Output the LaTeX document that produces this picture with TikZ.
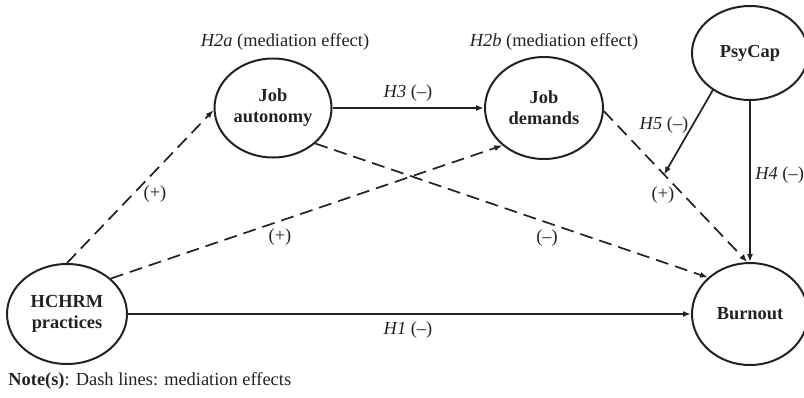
\documentclass[tikz,border=0pt]{standalone}
\usepackage{fontspec}
\setmainfont{Liberation Serif}
\usetikzlibrary{arrows.meta,shapes.geometric}
\definecolor{ink}{HTML}{222222}
\begin{document}
\begin{tikzpicture}[x=0.5pt,y=-0.5pt,
  font=\fontsize{9.2}{10.5}\selectfont, text=ink,
  var/.style={draw=ink, ellipse, line width=1pt, inner sep=0pt, align=center,
    font=\fontsize{9.2}{10.5}\selectfont\bfseries},
  conn/.style={draw=ink, line width=0.85pt, -{Latex[length=4pt,width=3pt]}},
  med/.style={conn, dash pattern=on 6.5pt off 3.5pt},
  lbl/.style={inner sep=0pt}
]
\useasboundingbox (0,0) rectangle (804,397);

% variables
\node[var, minimum width=60pt, minimum height=50pt] (hc) at (67,314) {HCHRM\\practices};
\node[var, minimum width=58.5pt, minimum height=49.5pt] (ja) at (273,108) {Job\\autonomy};
\node[var, minimum width=59pt, minimum height=51pt] (jd) at (544,108) {Job\\demands};
\node[var, minimum width=58pt, minimum height=47pt] (ps) at (750,53) {PsyCap};
\node[var, minimum width=58pt, minimum height=51pt] (bo) at (750,314) {Burnout};

% connectors
\draw[med] (hc.90) -- (ja.182);
\draw[med] (hc.39) -- (jd.222);
\draw[conn] (ja.east) -- (jd.west);
\draw[med] (ja.-40) -- (bo.139);
\draw[med] (jd.-3) -- (bo.93);
\path (jd.-3) -- (bo.93) coordinate[pos=0.42] (mod);
\draw[conn] (ps.225) -- (mod);
\draw[conn] (ps.270) -- (bo.90);
\draw[conn] (hc.east) -- (bo.west);

% labels
\node[lbl] (l2a) at (285,42) {\textit{H2a} (mediation effect)};
\node[lbl] (l2b) at (554,42) {\textit{H2b} (mediation effect)};
\node[lbl] (l3) at (408,93) {\textit{H3} (–)};
\node[lbl] (l5) at (664,125) {\textit{H5} (–)};
\node[lbl] (lp3) at (663,195) {(+)};
\node[lbl, anchor=west] (l4) at (755,175) {\textit{H4} (–)};
\node[lbl] (lp1) at (155,194) {(+)};
\node[lbl] (lp2) at (280,237) {(+)};
\node[lbl] (lm) at (547,238) {(–)};
\node[lbl] (l1) at (408,330) {\textit{H1} (–)};
\node[lbl, anchor=west] (note) at (8,381) {\textbf{Note(s)}: Dash lines: mediation effects};
\end{tikzpicture}
\end{document}
